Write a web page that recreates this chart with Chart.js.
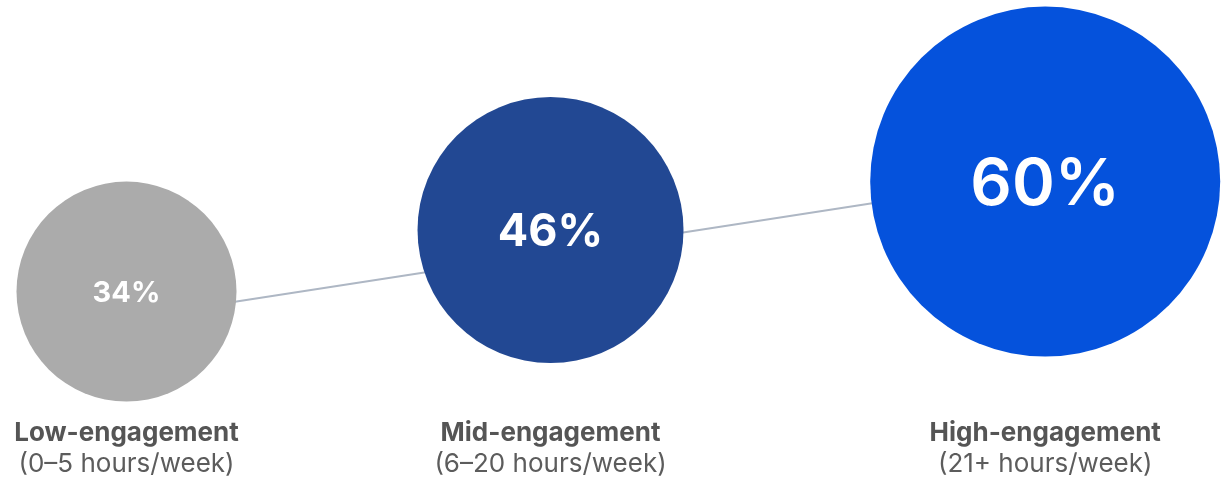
<!DOCTYPE html>
<html>
<head>
<meta charset="utf-8">
<script src="https://cdn.jsdelivr.net/npm/chart.js@4"></script>
<style>
  html, body { margin: 0; padding: 0; background: #ffffff; }
  #wrap { width: 1224px; height: 483px; position: relative; }
</style>
</head>
<body>
<div id="wrap"><canvas id="chart"></canvas></div>
<script>
// Data
const categories = ['Low-engagement', 'Mid-engagement', 'High-engagement'];
const hourRanges = ['(0–5 hours/week)', '(6–20 hours/week)', '(21+ hours/week)'];
const shareValues = [34, 46, 60];

// Presentation
const bubbleColors = ['#ababab', '#224893', '#0552dc'];
const bubbleRadius = [110, 133, 175];
const bubbleLiftPx = [27, 23, -5];          // how far each bubble sits above the trend line
const percentFonts = [
  { size: 29, weight: 700 },
  { size: 45, weight: 700 },
  { size: 65, weight: 600 }
];
const FONT = 'Inter, "Open Sans", sans-serif';
const CHART_H = 483;
const X_MIN = 30.42, X_MAX = 65.06;
const Y_MIN = 3.90, Y_MAX = 92.33;
const unitsPerPx = (Y_MAX - Y_MIN) / CHART_H;

const trendPoints = shareValues.map(v => ({ x: v, y: v }));
const bubblePoints = shareValues.map((v, i) => ({
  x: v,
  y: v + bubbleLiftPx[i] * unitsPerPx,
  r: bubbleRadius[i]
}));

// Percent inside each bubble and the category caption underneath
const bubbleLabels = {
  id: 'bubbleLabels',
  afterDatasetsDraw(chart) {
    const meta = chart.getDatasetMeta(1);
    const ctx = chart.ctx;
    ctx.save();
    ctx.textAlign = 'center';
    meta.data.forEach((el, i) => {
      const f = percentFonts[i];
      ctx.fillStyle = '#ffffff';
      ctx.textBaseline = 'middle';
      ctx.font = `${f.weight} ${f.size}px ${FONT}`;
      ctx.fillText(shareValues[i] + '%', el.x, el.y + f.size * 0.06);

      ctx.textBaseline = 'alphabetic';
      ctx.fillStyle = '#555555';
      ctx.font = `700 26px ${FONT}`;
      ctx.fillText(categories[i], el.x, 441);
      ctx.fillStyle = '#5c5c5c';
      ctx.font = `400 26px ${FONT}`;
      ctx.fillText(hourRanges[i], el.x, 472);
    });
    ctx.restore();
  }
};

new Chart(document.getElementById('chart'), {
  type: 'bubble',
  data: {
    datasets: [
      {
        type: 'line',
        label: 'trend',
        data: trendPoints,
        borderColor: '#aeb7c4',
        borderWidth: 2,
        pointRadius: 0,
        tension: 0,
        fill: false,
        order: 2
      },
      {
        type: 'bubble',
        label: 'share',
        data: bubblePoints,
        backgroundColor: bubbleColors,
        borderWidth: 0,
        hoverBorderWidth: 0,
        clip: false,
        order: 1
      }
    ]
  },
  options: {
    responsive: true,
    maintainAspectRatio: false,
    animation: false,
    events: [],
    layout: { padding: 0, autoPadding: false },
    plugins: { legend: { display: false }, tooltip: { enabled: false } },
    scales: {
      x: { type: 'linear', min: X_MIN, max: X_MAX, display: false },
      y: { type: 'linear', min: Y_MIN, max: Y_MAX, display: false }
    }
  },
  plugins: [bubbleLabels]
});
</script>
</body>
</html>
